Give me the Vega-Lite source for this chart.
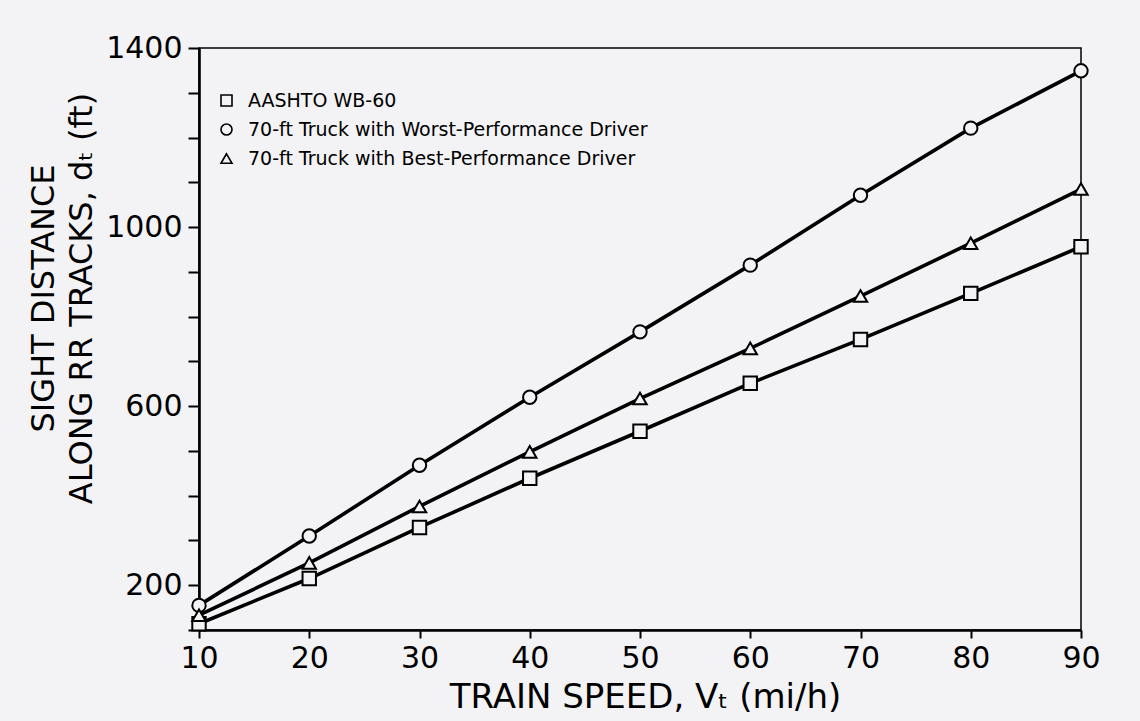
{
  "$schema": "https://vega.github.io/schema/vega-lite/v6.json",
  "width": 882,
  "height": 582,
  "autosize": {"type": "none"},
  "padding": {"left": 199, "top": 48, "right": 59, "bottom": 91},
  "background": "#f3f3f5",
  "config": {
    "view": {"stroke": "black", "strokeWidth": 1.5},
    "font": "DejaVu Sans",
    "axis": {
      "grid": false,
      "domainColor": "black",
      "domainWidth": 2.6,
      "tickColor": "black",
      "tickWidth": 2,
      "labelColor": "black",
      "titleColor": "black",
      "labelFont": "DejaVu Sans",
      "titleFont": "DejaVu Sans",
      "titleFontWeight": "normal",
      "labelFlush": false,
      "labelOverlap": false
    }
  },
  "data": {
    "values": [
      {"speed": 10, "dist": 114, "series": "AASHTO WB-60"},
      {"speed": 20, "dist": 215, "series": "AASHTO WB-60"},
      {"speed": 30, "dist": 329, "series": "AASHTO WB-60"},
      {"speed": 40, "dist": 439, "series": "AASHTO WB-60"},
      {"speed": 50, "dist": 544, "series": "AASHTO WB-60"},
      {"speed": 60, "dist": 651, "series": "AASHTO WB-60"},
      {"speed": 70, "dist": 749, "series": "AASHTO WB-60"},
      {"speed": 80, "dist": 852, "series": "AASHTO WB-60"},
      {"speed": 90, "dist": 956, "series": "AASHTO WB-60"},
      {"speed": 10, "dist": 155, "series": "70-ft Truck with Worst-Performance Driver"},
      {"speed": 20, "dist": 310, "series": "70-ft Truck with Worst-Performance Driver"},
      {"speed": 30, "dist": 468, "series": "70-ft Truck with Worst-Performance Driver"},
      {"speed": 40, "dist": 620, "series": "70-ft Truck with Worst-Performance Driver"},
      {"speed": 50, "dist": 766, "series": "70-ft Truck with Worst-Performance Driver"},
      {"speed": 60, "dist": 915, "series": "70-ft Truck with Worst-Performance Driver"},
      {"speed": 70, "dist": 1071, "series": "70-ft Truck with Worst-Performance Driver"},
      {"speed": 80, "dist": 1221, "series": "70-ft Truck with Worst-Performance Driver"},
      {"speed": 90, "dist": 1349, "series": "70-ft Truck with Worst-Performance Driver"},
      {"speed": 10, "dist": 133, "series": "70-ft Truck with Best-Performance Driver"},
      {"speed": 20, "dist": 250, "series": "70-ft Truck with Best-Performance Driver"},
      {"speed": 30, "dist": 376, "series": "70-ft Truck with Best-Performance Driver"},
      {"speed": 40, "dist": 498, "series": "70-ft Truck with Best-Performance Driver"},
      {"speed": 50, "dist": 617, "series": "70-ft Truck with Best-Performance Driver"},
      {"speed": 60, "dist": 729, "series": "70-ft Truck with Best-Performance Driver"},
      {"speed": 70, "dist": 846, "series": "70-ft Truck with Best-Performance Driver"},
      {"speed": 80, "dist": 964, "series": "70-ft Truck with Best-Performance Driver"},
      {"speed": 90, "dist": 1085, "series": "70-ft Truck with Best-Performance Driver"}
    ]
  },
  "encoding": {
    "x": {
      "field": "speed",
      "type": "quantitative",
      "scale": {"domain": [10, 90], "nice": false, "zero": false},
      "axis": {
        "values": [10, 20, 30, 40, 50, 60, 70, 80, 90],
        "format": "d",
        "labelFontSize": 30,
        "tickSize": 8,
        "labelPadding": 5,
        "title": "TRAIN SPEED, Vₜ (mi/h)",
        "titleFontSize": 34,
        "titleX": 446,
        "titleY": 77,
        "titleAlign": "center",
        "titleBaseline": "alphabetic"
      }
    },
    "y": {
      "field": "dist",
      "type": "quantitative",
      "scale": {"domain": [100, 1400], "nice": false, "zero": false},
      "axis": {
        "values": [100, 200, 300, 400, 500, 600, 700, 800, 900, 1000, 1100, 1200, 1300, 1400],
        "format": "d",
        "labelExpr": "datum.value % 400 == 200 ? datum.label : ''",
        "labelFontSize": 30,
        "tickSize": 11,
        "labelPadding": 6,
        "title": ["SIGHT DISTANCE", "ALONG RR TRACKS, dₜ (ft)"],
        "titleFontSize": 32,
        "titleAngle": 270,
        "titleX": -156,
        "titleY": 250,
        "titleAlign": "center",
        "titleBaseline": "middle",
        "titleLineHeight": 38
      }
    }
  },
  "layer": [
    {
      "mark": {"type": "line", "color": "black", "strokeWidth": 3.6},
      "encoding": {"detail": {"field": "series"}}
    },
    {
      "mark": {"type": "point", "filled": false, "color": "black", "fill": "#f3f3f5", "opacity": 1, "strokeWidth": 2, "size": 180},
      "encoding": {
        "shape": {
          "field": "series",
          "type": "nominal",
          "scale": {
            "domain": ["AASHTO WB-60", "70-ft Truck with Worst-Performance Driver", "70-ft Truck with Best-Performance Driver"],
            "range": ["square", "circle", "triangle-up"]
          },
          "legend": {
            "title": null,
            "orient": "none",
            "legendX": 18,
            "legendY": 43,
            "symbolSize": 121,
            "symbolStrokeWidth": 1.6,
            "labelFont": "DejaVu Sans",
            "labelFontSize": 19,
            "labelColor": "black",
            "labelLimit": 700,
            "labelOffset": 12,
            "rowPadding": 9
          }
        }
      }
    }
  ]
}
